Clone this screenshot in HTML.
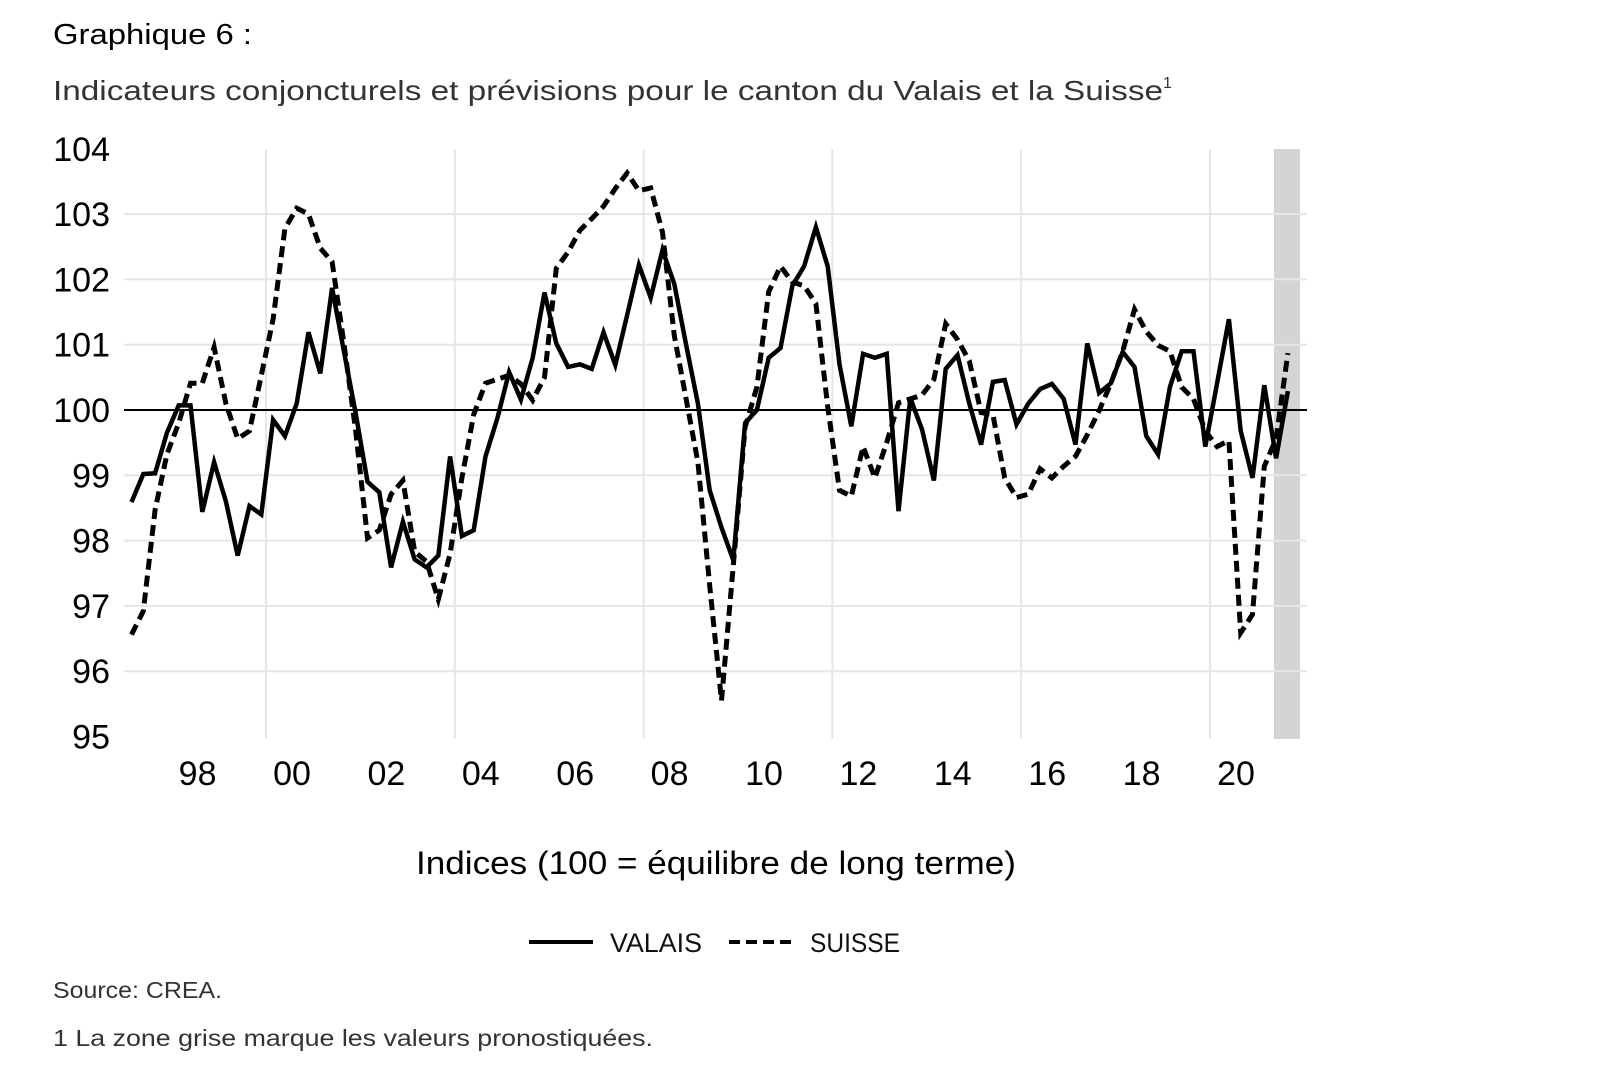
<!DOCTYPE html>
<html><head><meta charset="utf-8"><style>
html,body{margin:0;padding:0;background:#fff;}
svg{display:block;font-family:"Liberation Sans",sans-serif;}
</style></head><body>
<svg id="chart" width="1600" height="1074" viewBox="0 0 1600 1074">
<text x="53" y="44" font-size="29" fill="#000" textLength="199" lengthAdjust="spacingAndGlyphs">Graphique 6 :</text>
<text x="53" y="100" font-size="28" fill="#333" textLength="1110" lengthAdjust="spacingAndGlyphs">Indicateurs conjoncturels et prévisions pour le canton du Valais et la Suisse</text>
<text x="1163" y="88" font-size="16" fill="#333">1</text>
<rect x="1274" y="149" width="26" height="590" fill="#d4d4d4"/>
<g id="grid"></g>
<g id="yticks"></g>
<g id="xticks"></g>
<line x1="124" y1="410" x2="1307" y2="410" stroke="#000" stroke-width="2"/>
<g id="series"></g>
<text x="716" y="874" font-size="32" fill="#000" text-anchor="middle" textLength="600" lengthAdjust="spacingAndGlyphs">Indices (100 = équilibre de long terme)</text>
<g>
<line x1="529" y1="942" x2="593" y2="942" stroke="#000" stroke-width="4"/>
<text x="610" y="952" font-size="27" fill="#111" textLength="92" lengthAdjust="spacingAndGlyphs">VALAIS</text>
<line x1="729" y1="942" x2="793" y2="942" stroke="#000" stroke-width="4" stroke-dasharray="11 6"/>
<text x="810" y="952" font-size="27" fill="#111" textLength="90" lengthAdjust="spacingAndGlyphs">SUISSE</text>
</g>
<text x="53" y="998" font-size="23" fill="#333" textLength="169" lengthAdjust="spacingAndGlyphs">Source: CREA.</text>
<text x="53" y="1046" font-size="23" fill="#333" textLength="600" lengthAdjust="spacingAndGlyphs">1 La zone grise marque les valeurs pronostiquées.</text>
</svg>
<script>
const yTicks = [95,96,97,98,99,100,101,102,103,104];
const xTickLabels = ["98","00","02","04","06","08","10","12","14","16","18","20"];
const xTickYears = [1998,2000,2002,2004,2006,2008,2010,2012,2014,2016,2018,2020];
const gridYears = [2000,2004,2008,2012,2016,2020];
const startYear = 1997.15;
const valais = [98.59,99.02,99.03,99.65,100.07,100.07,98.44,99.2,98.6,97.77,98.53,98.4,99.85,99.6,100.1,101.19,100.56,101.87,100.9,99.95,98.9,98.74,97.59,98.29,97.71,97.59,97.77,99.29,98.07,98.16,99.29,99.87,100.58,100.16,100.8,101.8,101.02,100.66,100.7,100.63,101.19,100.69,101.45,102.22,101.72,102.45,101.93,101.0,100.1,98.77,98.2,97.7,99.8,100.0,100.8,100.95,101.9,102.2,102.8,102.2,100.7,99.75,100.86,100.8,100.86,98.45,100.18,99.7,98.92,100.63,100.84,100.1,99.47,100.43,100.46,99.78,100.1,100.32,100.4,100.17,99.47,101.02,100.26,100.41,100.89,100.66,99.6,99.32,100.35,100.9,100.9,99.44,100.41,101.39,99.68,98.96,100.38,99.26,100.29];
const suisse = [96.56,96.92,98.47,99.32,99.8,100.41,100.41,100.96,100.1,99.56,99.68,100.53,101.39,102.78,103.09,103.0,102.48,102.27,101.02,99.68,98.04,98.16,98.71,98.92,97.83,97.68,97.1,97.8,98.96,99.93,100.41,100.47,100.53,100.4,100.15,100.5,102.17,102.42,102.75,102.93,103.12,103.39,103.63,103.36,103.4,102.72,101.14,100.17,99.2,97.31,95.55,97.62,99.74,100.35,101.81,102.2,101.96,101.9,101.63,100.05,98.77,98.68,99.44,98.96,99.5,100.11,100.17,100.23,100.47,101.32,101.08,100.75,99.96,99.93,98.96,98.66,98.71,99.1,98.96,99.14,99.29,99.62,99.99,100.41,100.9,101.54,101.2,100.99,100.9,100.35,100.17,99.68,99.44,99.53,96.59,96.87,99.14,99.56,100.87];

const NS="http://www.w3.org/2000/svg";
function xs(year){return 266+(year-2000)*47.2;}
function ys(v){return 410-(v-100)*65.3;}
function xi(i){return xs(startYear+i*0.25);}
function mk(tag,attrs,parent){const e=document.createElementNS(NS,tag);for(const k in attrs)e.setAttribute(k,attrs[k]);parent.appendChild(e);return e;}
const grid=document.getElementById('grid'),yt=document.getElementById('yticks'),xt=document.getElementById('xticks'),ser=document.getElementById('series');
yTicks.forEach(v=>{
  if(v!==100&&v!==104&&v!==95){const l=mk('line',{x1:124,x2:1307,y1:ys(v),y2:ys(v),stroke:'#e6e6e6','stroke-width':2},grid);
  
  }
  const t=mk('text',{x:110,y:ys(v)+12,'font-size':34,'text-anchor':'end',fill:'#000'},yt);
  t.textContent=String(v);
  
  
});
gridYears.forEach(y=>{
  const l=mk('line',{x1:xs(y),x2:xs(y),y1:149,y2:739,stroke:'#e6e6e6','stroke-width':2},grid);
  
  
});
xTickLabels.forEach((lab,i)=>{
  const t=mk('text',{x:xs(xTickYears[i])+26,y:785,'font-size':34,'text-anchor':'middle',fill:'#000'},xt);
  t.textContent=lab;
  
  
});
function path(arr){return arr.map((v,i)=>(i?'L':'M')+xi(i).toFixed(1)+' '+ys(v).toFixed(1)).join(' ');}
const ps=mk('path',{d:path(suisse),fill:'none',stroke:'#000','stroke-width':5,'stroke-dasharray':'11 6'},ser);


const pv=mk('path',{d:path(valais),fill:'none',stroke:'#000','stroke-width':4.5,'stroke-linejoin':'miter'},ser);


</script>
</body></html>
